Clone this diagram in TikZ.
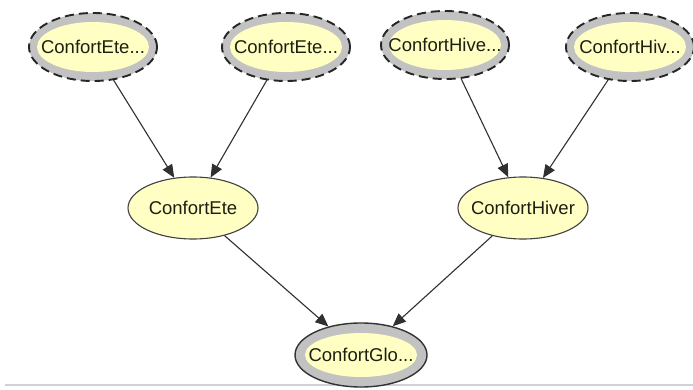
\documentclass[tikz,border=0pt]{standalone}
\usepackage{fontspec}
\setmainfont{Liberation Sans}
\usetikzlibrary{shapes.geometric,arrows.meta}
\definecolor{nodeyellow}{HTML}{FFFFC4}
\definecolor{nodegray}{HTML}{C2C2C2}
\definecolor{txt}{HTML}{1E1E10}
\definecolor{edge}{HTML}{303030}
\newcommand{\nlab}[1]{\makebox[0pt]{#1}}
\begin{document}
\begin{tikzpicture}[x=1pt,y=-1pt,
  lbl/.style={font=\fontsize{18.5}{21}\selectfont, text=txt, inner sep=0pt},
  priornode/.style={lbl, ellipse, minimum width=128pt, minimum height=68pt,
    fill=nodegray, draw=black!85, line width=1.9pt, dash pattern=on 9pt off 5pt,
    path picture={\fill[nodeyellow] (path picture bounding box.center) ellipse [x radius=56pt, y radius=25pt];}},
  midnode/.style={lbl, ellipse, minimum width=130pt, minimum height=62pt,
    fill=nodeyellow, draw=black!75, line width=1.1pt},
  globnode/.style={lbl, ellipse, minimum width=132pt, minimum height=64pt,
    fill=nodegray, draw=black!80, line width=1.4pt,
    path picture={\fill[nodeyellow] (path picture bounding box.center) ellipse [x radius=56pt, y radius=22pt];}},
  arr/.style={draw=edge, line width=1.1pt, -{Triangle[length=13pt,width=11pt]}}
]
\useasboundingbox (0,0) rectangle (693,390);
\fill[white] (0,0) rectangle (693,390);
\draw[black!18, line width=1.6pt] (5,385) -- (693,385);

\node[priornode] (e1) at (93,47) {\nlab{ConfortEte...}};
\node[priornode] (e2) at (286,47) {\nlab{ConfortEte...}};
\node[priornode] (h1) at (445,45) {\nlab{ConfortHive...}};
\node[priornode] (h2) at (630,47) {\nlab{ConfortHiv...}};
\node[midnode] (ete) at (193,208) {\nlab{ConfortEte}};
\node[midnode] (hiver) at (523,208) {\nlab{ConfortHiver}};
\node[globnode] (glo) at (361,355) {\nlab{ConfortGlo...}};

\draw[arr] (e1) -- (ete);
\draw[arr] (e2) -- (ete);
\draw[arr] (h1) -- (hiver);
\draw[arr] (h2) -- (hiver);
\draw[arr] (ete) -- (glo);
\draw[arr] (hiver) -- (glo);
\end{tikzpicture}
\end{document}
